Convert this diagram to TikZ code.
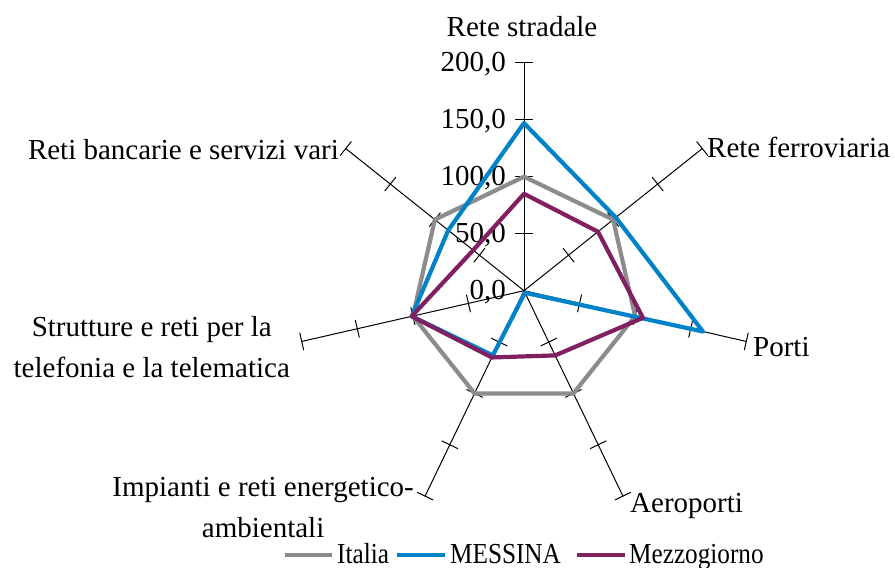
\documentclass[tikz,border=0pt]{standalone}
\usepackage{fontspec}
\setmainfont{Liberation Serif}
\definecolor{cItalia}{RGB}{140,140,140}
\definecolor{cMessina}{RGB}{0,130,200}
\definecolor{cMezzo}{RGB}{128,32,96}
\begin{document}
\begin{tikzpicture}[x=1pt,y=1pt,
  font=\fontsize{29}{41}\selectfont,
  axisline/.style={black,line width=1pt},
  tickline/.style={black,line width=1pt},
  serie/.style={line width=4.2pt,line join=round},
  lbl/.style={inner sep=0pt},
  leglbl/.style={inner sep=0pt,anchor=base west,transform shape,xscale=0.87},
  ticklbl/.style={inner sep=0pt,anchor=east}]
\useasboundingbox (0,0) rectangle (895,568);
\coordinate (C) at (524,277.3);
% axes
\foreach \k in {0,...,6}{
  \pgfmathsetmacro{\ang}{90-\k*360/7}
  \coordinate (E\k) at ([shift={(\ang:228)}]C);
  \draw[axisline] (C) -- (E\k);
  \foreach \v in {50,100,150,200}{
    \coordinate (T) at ([shift={(\ang:{\v*1.14})}]C);
    \draw[tickline] ([shift={(\ang+90:9)}]T) -- ([shift={(\ang-90:9)}]T);
  }
}
% tick labels
\foreach \v/\t in {0/{0,0},50/{50,0},100/{100,0},150/{150,0},200/{200,0}}{
  \node[ticklbl] (L\v) at (506,{277.3+\v*1.14-1}) {\t};
}
% series
\foreach \v [count=\k from 0] in {100,100,100,100,100,100,100}
  \coordinate (I\k) at ([shift={({90-\k*360/7}:{\v*1.14})}]C);
\foreach \v [count=\k from 0] in {147,103,161,2,63,101,85}
  \coordinate (M\k) at ([shift={({90-\k*360/7}:{\v*1.14})}]C);
\foreach \v [count=\k from 0] in {85,83,107,63,65,101,57}
  \coordinate (Z\k) at ([shift={({90-\k*360/7}:{\v*1.14})}]C);
\draw[serie,cItalia] (I0)--(I1)--(I2)--(I3)--(I4)--(I5)--(I6)--cycle;
\draw[serie,cMessina] (M0)--(M1)--(M2)--(M3)--(M4)--(M5)--(M6)--cycle;
\draw[serie,cMezzo] (Z0)--(Z1)--(Z2)--(Z3)--(Z4)--(Z5)--(Z6)--cycle;
% category labels
\node[lbl] (c0) at (522,541) {Rete stradale};
\node[lbl,anchor=west] (c1) at (707,421) {Rete ferroviaria};
\node[lbl,anchor=west] (c2) at (753,221) {Porti};
\node[lbl,anchor=west] (c3) at (630,62) {Aeroporti};
\node[lbl,anchor=east,align=center] (c4) at (414,60) {Impianti e reti energetico-\\ambientali};
\node[lbl,anchor=east,align=center] (c5) at (290,221) {Strutture e reti per la\\telefonia e la telematica};
\node[lbl,anchor=east] (c6) at (339,418) {Reti bancarie e servizi vari};
% legend
\coordinate (g1) at (285,13); \coordinate (g2) at (332,13);
\coordinate (b1) at (397,13); \coordinate (b2) at (445,13);
\coordinate (m1) at (577,13); \coordinate (m2) at (625,13);
\draw[serie,cItalia] (g1) -- (g2);
\draw[serie,cMessina] (b1) -- (b2);
\draw[serie,cMezzo] (m1) -- (m2);
\node[leglbl] (t1) at (337,5) {Italia};
\node[leglbl] (t2) at (450,5) {MESSINA};
\node[leglbl] (t3) at (629,5) {Mezzogiorno};
\end{tikzpicture}
\end{document}
